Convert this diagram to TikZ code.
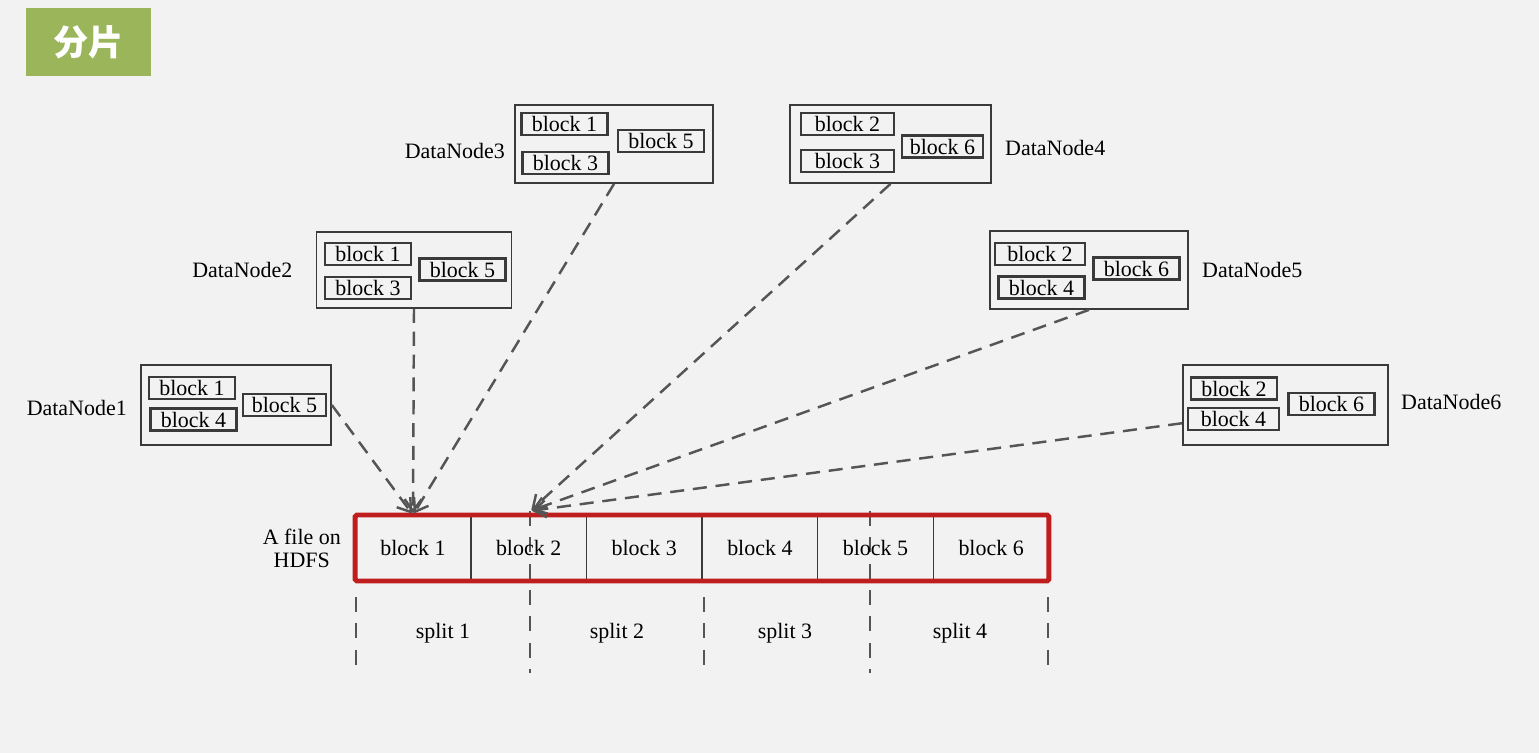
\documentclass[tikz,border=0pt]{standalone}
\usepackage{fontspec}
\setmainfont{Liberation Serif}
\newfontfamily\cjk{Noto Sans CJK SC}
\usetikzlibrary{arrows.meta,positioning,calc}
\definecolor{slidebg}{HTML}{F2F2F2}
\definecolor{titlegreen}{HTML}{9BB55A}
\definecolor{hdfsred}{HTML}{C01E1E}
\definecolor{dark}{HTML}{3A3A3A}
\definecolor{dashgray}{HTML}{555555}
\tikzset{
  txt/.style={font=\fontsize{12.5}{13}\selectfont},
  dnbox/.style={draw=dark, line width=1pt, inner sep=0pt},
  blk/.style={txt, draw=dark, line width=1.2pt, minimum width=1.72cm, minimum height=0.44cm, inner sep=0pt},
  dnlabel/.style={txt, inner sep=0pt, align=center},
  fcell/.style={txt, draw=dark, line width=0.9pt, minimum width=2.313cm, minimum height=1.32cm, inner sep=0pt, outer sep=0pt},
  fileframe/.style={draw=hdfsred, line width=2.8pt, rounded corners=1pt},
  link/.style={draw=dashgray, line width=1.4pt, dash pattern=on 8pt off 5pt, shorten >=1pt, -{Straight Barb[length=2.4mm,width=3.4mm]}},
  splitline/.style={draw=dashgray, line width=1.3pt, dash pattern=on 8.5pt off 6.5pt},
  titlebox/.style={fill=titlegreen, text=white, minimum width=2.5cm, minimum height=1.36cm, font=\cjk\bfseries\fontsize{20}{24}\selectfont}
}

\begin{document}
\begin{tikzpicture}[x=0.02cm, y=-0.02cm]
  \fill[slidebg] (0,0) rectangle (1539,753);
  \node[titlebox] (title) at (88.5,42) {分片};

  \node[dnbox, minimum width=3.8cm, minimum height=1.6cm] (dn1) at (236,405) {};
  \node[blk] (dn1b1) at (192,388) {block 1};
  \node[blk] (dn1b4) at (193.5,419.5) {block 4};
  \node[blk, minimum width=1.66cm] (dn1b5) at (284.5,405) {block 5};
  \node[dnlabel, left=0.26cm of dn1, yshift=-0.06cm] (dn1l) {DataNode1};

  \node[dnbox, minimum width=3.9cm, minimum height=1.52cm] (dn2) at (414,270) {};
  \node[blk] (dn2b1) at (368,254) {block 1};
  \node[blk] (dn2b3) at (368,288) {block 3};
  \node[blk] (dn2b5) at (462.5,269.5) {block 5};
  \node[dnlabel, left=0.46cm of dn2] (dn2l) {DataNode2};

  \node[dnbox, minimum width=3.96cm, minimum height=1.56cm] (dn3) at (614,144) {};
  \node[blk] (dn3b1) at (564.5,124) {block 1};
  \node[blk] (dn3b3) at (565.5,163) {block 3};
  \node[blk] (dn3b5) at (661,141) {block 5};
  \node[dnlabel, left=0.18cm of dn3, yshift=-0.14cm] (dn3l) {DataNode3};

  \node[dnbox, minimum width=4.02cm, minimum height=1.56cm] (dn4) at (890.5,144) {};
  \node[blk, minimum width=1.86cm] (dn4b2) at (847.5,124) {block 2};
  \node[blk, minimum width=1.86cm] (dn4b3) at (847.5,161) {block 3};
  \node[blk, minimum width=1.62cm] (dn4b6) at (942.5,146.5) {block 6};
  \node[dnlabel, right=0.26cm of dn4, yshift=-0.08cm] (dn4l) {DataNode4};

  \node[dnbox, minimum width=3.96cm, minimum height=1.56cm] (dn5) at (1089,270) {};
  \node[blk, minimum width=1.8cm] (dn5b2) at (1040,254) {block 2};
  \node[blk] (dn5b4) at (1041.5,287.5) {block 4};
  \node[blk] (dn5b6) at (1136.5,268.5) {block 6};
  \node[dnlabel, right=0.26cm of dn5] (dn5l) {DataNode5};

  \node[dnbox, minimum width=4.1cm, minimum height=1.6cm] (dn6) at (1285.5,405) {};
  \node[blk] (dn6b2) at (1234,388.5) {block 2};
  \node[blk, minimum width=1.82cm] (dn6b4) at (1233.5,419) {block 4};
  \node[blk] (dn6b6) at (1331.5,404) {block 6};
  \node[dnlabel, right=0.24cm of dn6, yshift=0.06cm] (dn6l) {DataNode6};

  \coordinate (s0) at (356,597);
  \coordinate (s1) at (530,511);
  \coordinate (s2) at (704,597);
  \coordinate (s3) at (870,511);
  \coordinate (s4) at (1048,597);
  \coordinate (sb) at (0,673);
  \foreach \s in {s0,s1,s2,s3,s4}
    \draw[splitline] (\s) -- (\s |- sb);

  \node[fcell] (f1) at (413,548) {block 1};
  \node[fcell, right=0pt of f1] (f2) {block 2};
  \node[fcell, right=0pt of f2] (f3) {block 3};
  \node[fcell, right=0pt of f3] (f4) {block 4};
  \node[fcell, right=0pt of f4] (f5) {block 5};
  \node[fcell, right=0pt of f5] (f6) {block 6};
  \draw[fileframe] (f1.north west) rectangle (f6.south east);
  \node[dnlabel, left=0.28cm of f1] (hdfs) {A file on\\HDFS};

  \node[dnlabel] (sp1) at (443,633) {split 1};
  \node[dnlabel] (sp2) at (617,633) {split 2};
  \node[dnlabel] (sp3) at (785,633) {split 3};
  \node[dnlabel] (sp4) at (960,633) {split 4};

  \draw[link] (dn1.east) -- (f1.north);
  \draw[link] (dn2.south) -- (f1.north);
  \draw[link] (dn3.south) -- (f1.north);
  \draw[link] (dn4.south) -- (s1);
  \draw[link] (dn5.south) -- (s1);
  \draw[link] (dn6.190) -- (s1);
\end{tikzpicture}
\end{document}
